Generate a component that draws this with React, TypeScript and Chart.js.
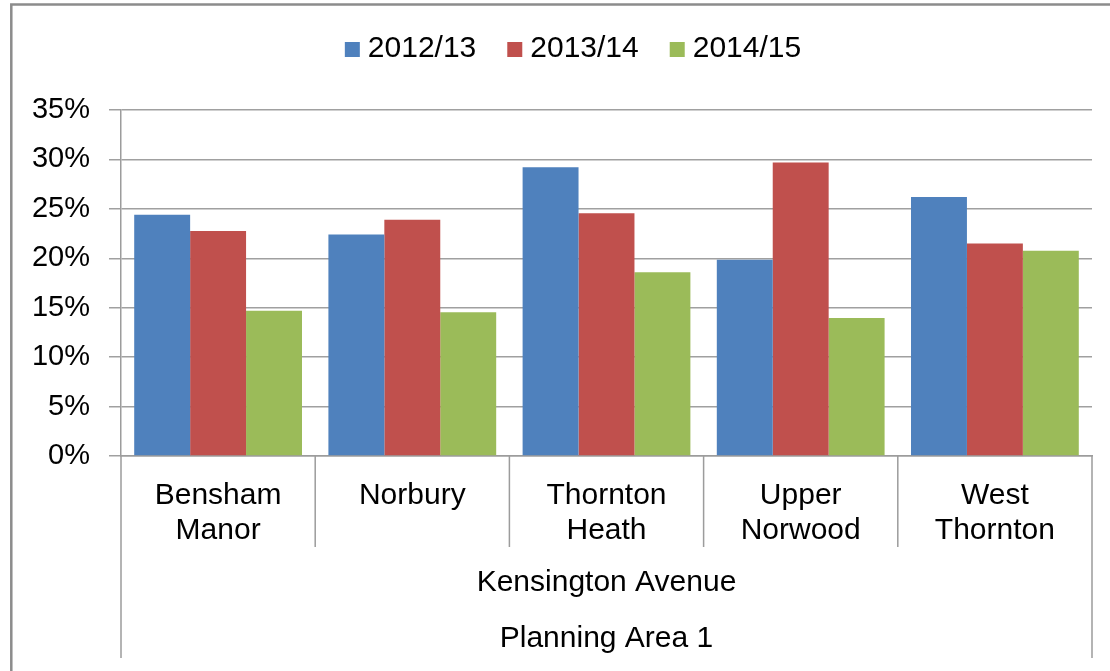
import React, { useEffect, useRef } from 'react';
import { Chart, registerables } from 'chart.js';

Chart.register(...registerables);

const FONT = "'Liberation Sans', Arial, Helvetica, sans-serif";

const categories: string[][] = [
  ['Bensham', 'Manor'],
  ['Norbury'],
  ['Thornton', 'Heath'],
  ['Upper', 'Norwood'],
  ['West', 'Thornton'],
];
const groupLabelInner = 'Kensington Avenue';
const groupLabelOuter = 'Planning Area 1';

const seriesNames = ['2012/13', '2013/14', '2014/15'];
const seriesColors = ['#4F81BD', '#C0504D', '#9BBB59'];
const values2012 = [24.4, 22.4, 29.2, 19.85, 26.2];
const values2013 = [22.75, 23.9, 24.55, 29.7, 21.5];
const values2014 = [14.7, 14.55, 18.6, 13.95, 20.75];

const yMin = 0;
const yMax = 35;
const yStep = 5;

const overlayPlugin = {
  id: 'overlay',
  afterDraw(chart: any) {
    const ctx = chart.ctx;
    const area = chart.chartArea;
    const n = categories.length;
    const w = (area.right - area.left) / n;
    ctx.save();

    // outer frame (left and top edges)
    ctx.strokeStyle = '#8c8c8c';
    ctx.lineWidth = 2.5;
    ctx.beginPath();
    ctx.moveTo(11.3, chart.height);
    ctx.lineTo(11.3, 4.5);
    ctx.lineTo(chart.width, 4.5);
    ctx.stroke();

    // category dividers below the axis
    ctx.strokeStyle = '#9c9c9c';
    ctx.lineWidth = 1.5;
    ctx.beginPath();
    for (let i = 1; i < n; i++) {
      const x = area.left + i * w;
      ctx.moveTo(x, area.bottom);
      ctx.lineTo(x, area.bottom + 91);
    }
    ctx.moveTo(area.left, area.bottom);
    ctx.lineTo(area.left, area.bottom + 202);
    ctx.moveTo(area.right, area.bottom);
    ctx.lineTo(area.right, area.bottom + 202);
    ctx.stroke();

    // group labels
    ctx.fillStyle = '#000';
    ctx.font = `30px ${FONT}`;
    ctx.textAlign = 'center';
    ctx.textBaseline = 'middle';
    const cx = (area.left + area.right) / 2;
    ctx.fillText(groupLabelInner, cx, area.bottom + 127);
    ctx.fillText(groupLabelOuter, cx, area.bottom + 183);

    // legend
    const box = 15;
    const gap = 8;
    const spacing = 31;
    const items = chart.data.datasets.map((ds: any) => ({
      label: ds.label,
      color: ds.backgroundColor,
      w: ctx.measureText(ds.label).width,
    }));
    let total = 0;
    items.forEach((it: any, i: number) => {
      total += box + gap + it.w + (i > 0 ? spacing : 0);
    });
    let x = 573 - total / 2;
    ctx.textAlign = 'left';
    items.forEach((it: any) => {
      ctx.fillStyle = it.color;
      ctx.fillRect(x, 42, box, box);
      ctx.fillStyle = '#000';
      ctx.fillText(it.label, x + box + gap, 49);
      x += box + gap + it.w + spacing;
    });

    ctx.restore();
  },
};

export default function App() {
  const ref = useRef<HTMLCanvasElement | null>(null);

  useEffect(() => {
    if (!ref.current) return;
    const seriesValues = [values2012, values2013, values2014];
    const chart = new Chart(ref.current, {
      type: 'bar',
      data: {
        labels: categories,
        datasets: seriesNames.map((name, i) => ({
          label: name,
          data: seriesValues[i],
          backgroundColor: seriesColors[i],
          borderWidth: 0,
          categoryPercentage: 0.864,
          barPercentage: 1,
        })),
      },
      options: {
        animation: false,
        responsive: true,
        maintainAspectRatio: false,
        layout: { padding: { left: 0, right: 18, top: 110, bottom: 0 } },
        plugins: {
          legend: { display: false },
          tooltip: { enabled: false },
          title: { display: false },
        },
        scales: {
          x: {
            grid: { display: false },
            border: { display: true, color: '#9c9c9c', width: 1.5 },
            ticks: {
              color: '#000',
              font: { size: 30, family: FONT, lineHeight: 35 / 30 },
              padding: 14,
              maxRotation: 0,
              minRotation: 0,
              autoSkip: false,
            },
            afterFit: (s: any) => {
              s.height = 215;
            },
          },
          y: {
            min: yMin,
            max: yMax,
            ticks: {
              stepSize: yStep,
              color: '#000',
              font: { size: 29, family: FONT },
              padding: 19,
              callback: (v: any) => `${v}%`,
            },
            grid: { color: '#a0a0a0', lineWidth: 1.5, tickLength: 12, drawTicks: true },
            border: { display: true, color: '#9c9c9c', width: 1.5 },
            afterFit: (s: any) => {
              s.width = 121;
            },
          },
        },
      },
      plugins: [overlayPlugin],
    });
    return () => chart.destroy();
  }, []);

  return (
    <div style={{ position: 'fixed', left: 0, top: 0, width: 1110, height: 671, background: '#fff' }}>
      <canvas ref={ref} />
    </div>
  );
}
